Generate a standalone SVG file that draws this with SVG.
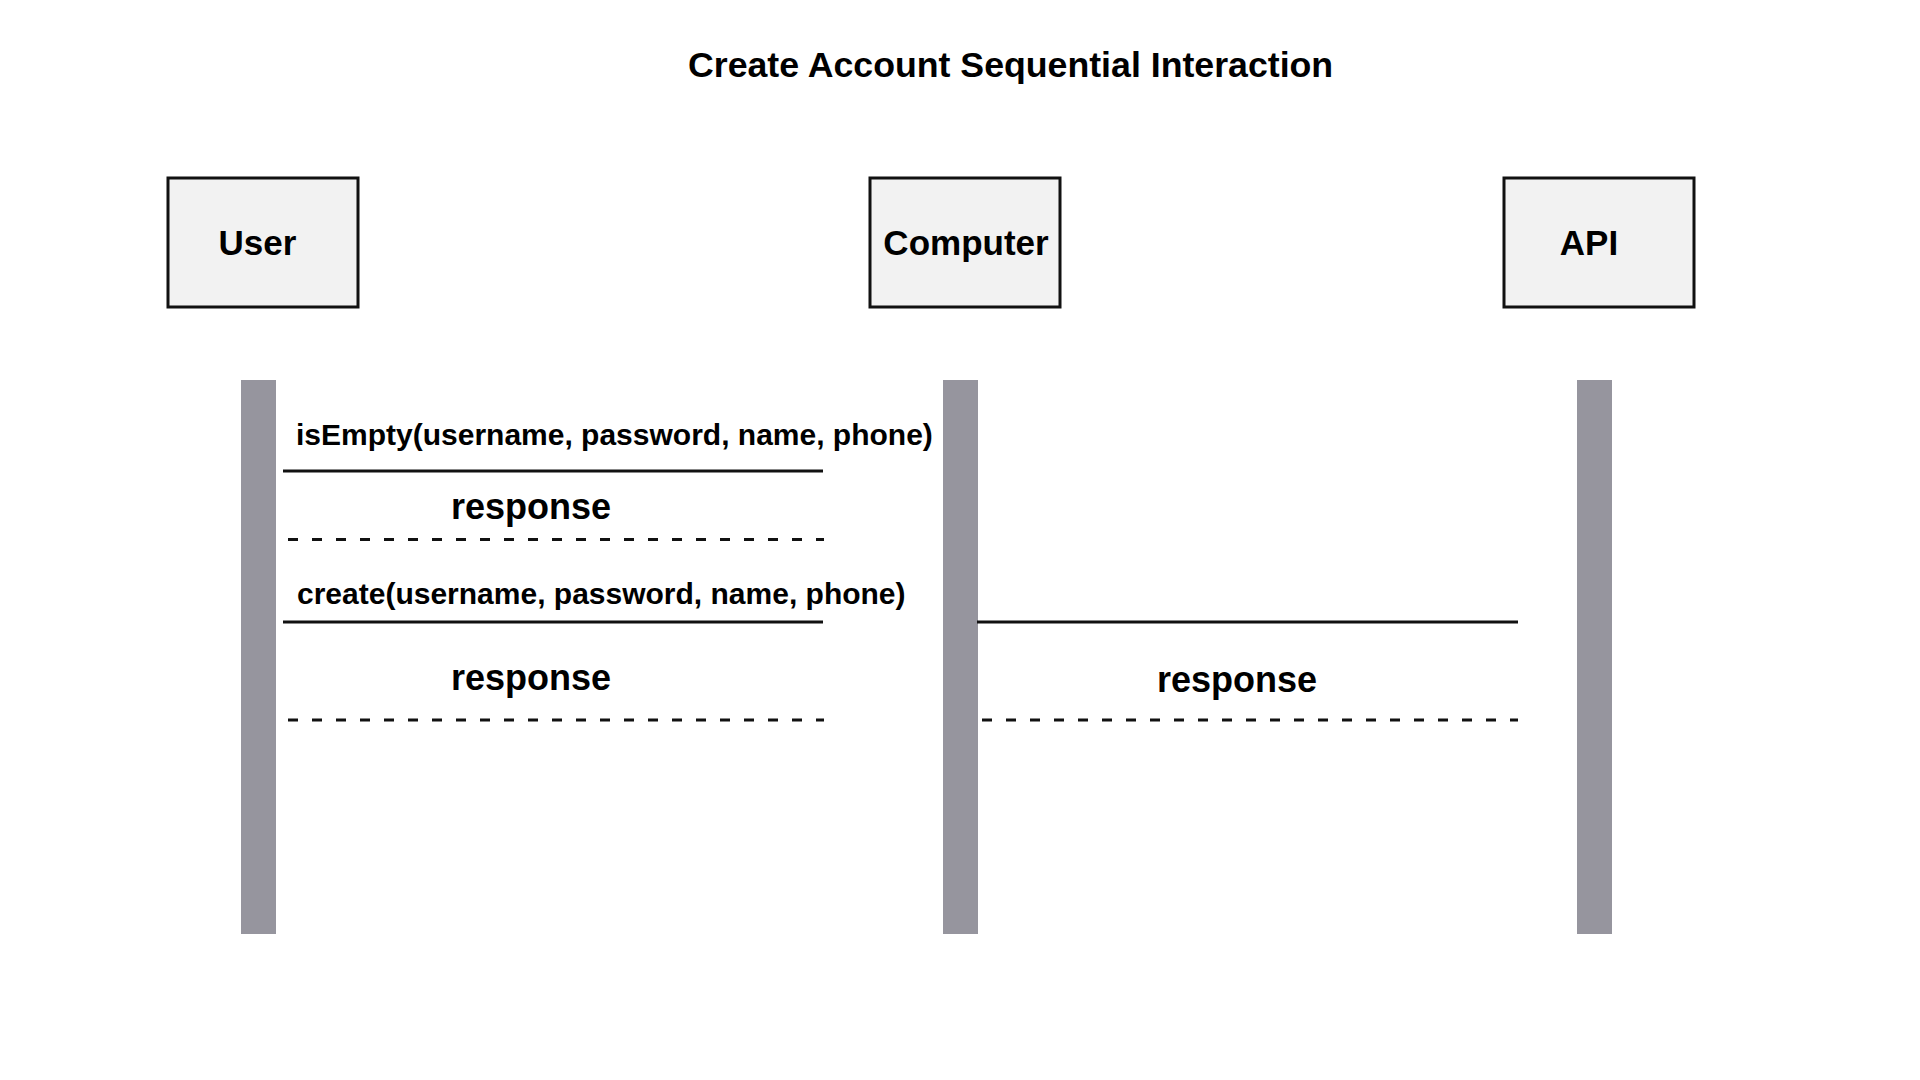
<svg xmlns="http://www.w3.org/2000/svg" width="1920" height="1080" viewBox="0 0 1920 1080">
<style>
  text { font-family: "Liberation Sans", Arial, Helvetica, sans-serif; font-weight: bold; fill: #000; }
  .title { font-size: 35.7px; }
  .box { fill: #f2f2f2; stroke: #111; stroke-width: 3; }
  .lbl { font-size: 35px; text-anchor: middle; }
  .bar { fill: #96959e; }
  .msg { stroke: #111; stroke-width: 3; fill: none; }
  .ret { stroke: #111; stroke-width: 3; fill: none; stroke-dasharray: 10 14; }
  .mtxt { font-size: 30px; }
  .rtxt { font-size: 36px; }
</style>
<rect width="1920" height="1080" fill="#ffffff"/>
<text class="title" x="688" y="77">Create Account Sequential Interaction</text>

<g id="user">
  <rect class="box" x="168" y="178" width="190" height="129"/>
  <text class="lbl" x="257.5" y="255">User</text>
  <rect class="bar" x="241" y="380" width="35" height="554"/>
</g>
<g id="computer">
  <rect class="box" x="870" y="178" width="190" height="129"/>
  <text class="lbl" x="966" y="255">Computer</text>
  <rect class="bar" x="943" y="380" width="35" height="554"/>
</g>
<g id="api">
  <rect class="box" x="1504" y="178" width="190" height="129"/>
  <text class="lbl" x="1589" y="255">API</text>
  <rect class="bar" x="1577" y="380" width="35" height="554"/>
</g>

<g id="connectors">
  <line class="msg" x1="283" y1="471" x2="823" y2="471"/>
  <line class="ret" x1="288" y1="539.5" x2="824" y2="539.5"/>
  <line class="msg" x1="283" y1="622" x2="823" y2="622"/>
  <line class="ret" x1="288" y1="720" x2="824" y2="720"/>
  <line class="msg" x1="977" y1="622" x2="1518" y2="622"/>
  <line class="ret" x1="982" y1="720" x2="1518" y2="720"/>
</g>

<g id="labels">
  <text class="mtxt" x="296" y="445">isEmpty(username, password, name, phone)</text>
  <text class="rtxt" x="451" y="519">response</text>
  <text class="mtxt" x="297" y="604">create(username, password, name, phone)</text>
  <text class="rtxt" x="451" y="690">response</text>
  <text class="rtxt" x="1157" y="692">response</text>
</g>
</svg>
